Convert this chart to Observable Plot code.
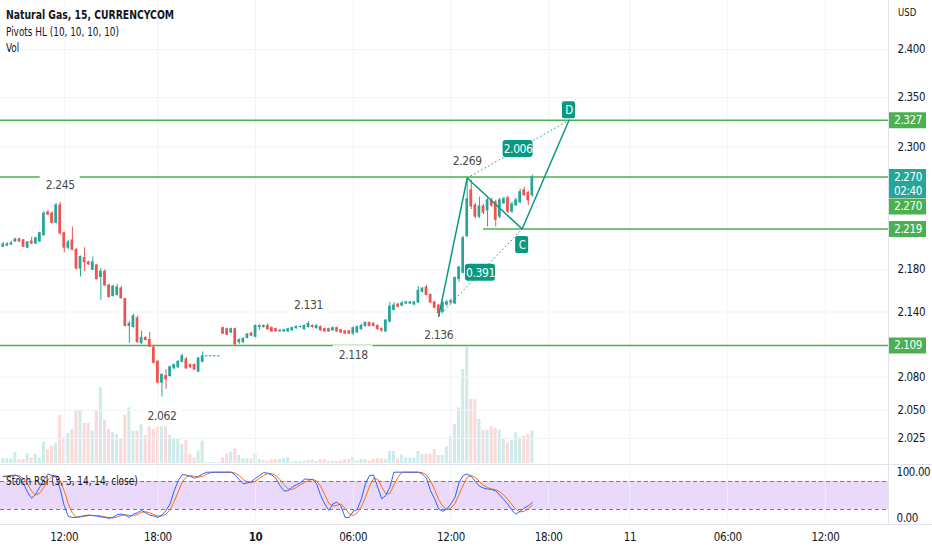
<!DOCTYPE html>
<html><head><meta charset="utf-8">
<script src="https://cdn.jsdelivr.net/npm/d3@7"></script>
<script src="https://cdn.jsdelivr.net/npm/@observablehq/plot@0.6"></script>
<style>
body{margin:0;background:#fff;}
#chart{position:relative;width:932px;height:550px;overflow:hidden;font-family:"DejaVu Sans Condensed","DejaVu Sans",sans-serif;color:#131722;background:#fff}
#chart svg{position:absolute;left:0;top:0;}
.lg{position:absolute;left:6px;font-size:11.5px;white-space:nowrap;line-height:14px;transform:scaleX(0.86);transform-origin:0 50%}
.sep{position:absolute;background:#e0e3eb}
</style></head><body><div id="chart"></div><script>
// ---------- data ----------
const open = [2.202,2.203,2.204,2.207,2.209,2.208,2.201,2.207,2.205,2.207,
2.213,2.235,2.234,2.225,2.242,2.215,2.201,2.208,2.199,2.181,
2.191,2.187,2.180,2.184,2.173,2.178,2.165,2.155,2.156,2.162,
2.152,2.127,2.126,2.134,2.111,2.116,2.114,2.107,2.094,2.075,
2.081,2.081,2.088,2.089,2.094,2.096,2.091,2.091,2.085,2.094,
2.099,2.099,2.099,2.099,2.125,2.124,2.121,2.124,2.112,2.112,
2.116,2.120,2.117,2.126,2.126,2.127,2.125,2.124,2.122,2.122,
2.122,2.123,2.125,2.126,2.124,2.126,2.127,2.125,2.126,2.124,
2.124,2.123,2.125,2.123,2.122,2.122,2.120,2.121,2.124,2.127,
2.130,2.129,2.127,2.124,2.122,2.131,2.142,2.147,2.146,2.148,
2.148,2.147,2.149,2.159,2.163,2.156,2.149,2.146,2.140,2.147,
2.149,2.148,2.171,2.177,2.212,2.257,2.242,2.231,2.241,2.237,
2.247,2.245,2.231,2.244,2.249,2.236,2.242,2.245,2.257,2.254,
2.252];
const high = [2.206,2.206,2.207,2.210,2.210,2.209,2.207,2.211,2.211,2.216,
2.236,2.237,2.236,2.244,2.245,2.216,2.208,2.221,2.200,2.193,
2.201,2.188,2.192,2.185,2.181,2.180,2.166,2.165,2.166,2.164,
2.153,2.131,2.138,2.136,2.122,2.117,2.121,2.109,2.095,2.083,
2.087,2.090,2.092,2.095,2.101,2.098,2.092,2.092,2.098,2.103,
2.099,2.099,2.099,2.099,2.126,2.125,2.125,2.125,2.115,2.116,
2.120,2.121,2.128,2.128,2.128,2.129,2.126,2.125,2.124,2.124,
2.125,2.126,2.127,2.127,2.128,2.131,2.128,2.128,2.127,2.125,
2.125,2.126,2.126,2.124,2.123,2.123,2.126,2.127,2.129,2.130,
2.130,2.130,2.128,2.125,2.133,2.149,2.149,2.148,2.150,2.150,
2.150,2.150,2.164,2.163,2.165,2.157,2.150,2.147,2.150,2.151,
2.152,2.173,2.183,2.212,2.269,2.267,2.244,2.250,2.243,2.249,
2.249,2.247,2.249,2.250,2.251,2.245,2.249,2.258,2.260,2.256,
2.272];
const low = [2.201,2.202,2.203,2.206,2.206,2.201,2.200,2.204,2.204,2.206,
2.212,2.232,2.224,2.224,2.213,2.196,2.199,2.198,2.180,2.173,
2.178,2.184,2.179,2.170,2.151,2.164,2.153,2.154,2.155,2.152,
2.126,2.111,2.125,2.111,2.110,2.113,2.107,2.092,2.074,2.062,
2.069,2.080,2.087,2.088,2.093,2.087,2.088,2.086,2.084,2.093,
2.099,2.099,2.099,2.099,2.119,2.118,2.120,2.108,2.110,2.111,
2.115,2.117,2.116,2.123,2.125,2.123,2.121,2.121,2.121,2.121,
2.121,2.122,2.124,2.125,2.123,2.125,2.125,2.124,2.122,2.121,
2.121,2.122,2.121,2.120,2.119,2.119,2.118,2.120,2.123,2.126,
2.126,2.126,2.123,2.121,2.121,2.130,2.141,2.144,2.145,2.147,
2.147,2.146,2.148,2.158,2.155,2.148,2.143,2.136,2.139,2.145,
2.147,2.147,2.168,2.176,2.211,2.238,2.229,2.229,2.233,2.221,
2.240,2.221,2.229,2.243,2.234,2.234,2.241,2.244,2.251,2.242,
2.250];
const close = [2.204,2.204,2.205,2.209,2.207,2.202,2.206,2.205,2.210,2.215,
2.234,2.233,2.225,2.242,2.215,2.201,2.206,2.199,2.181,2.192,
2.187,2.185,2.187,2.171,2.178,2.165,2.154,2.164,2.163,2.153,
2.127,2.129,2.136,2.112,2.116,2.114,2.108,2.093,2.075,2.082,
2.078,2.089,2.091,2.094,2.099,2.088,2.089,2.087,2.097,2.099,
2.099,2.099,2.099,2.099,2.120,2.119,2.124,2.110,2.114,2.115,
2.119,2.118,2.127,2.127,2.127,2.124,2.122,2.122,2.1225,2.123,
2.124,2.125,2.126,2.126,2.127,2.129,2.126,2.127,2.123,2.122,
2.122,2.125,2.122,2.121,2.120,2.120,2.125,2.126,2.127,2.130,
2.127,2.127,2.124,2.123,2.132,2.145,2.146,2.145,2.148,2.149,
2.149,2.149,2.160,2.162,2.156,2.149,2.144,2.139,2.1485,2.149,
2.150,2.172,2.182,2.210,2.248,2.241,2.231,2.241,2.235,2.247,
2.242,2.228,2.247,2.248,2.236,2.243,2.247,2.255,2.252,2.247,
2.270];
const volume = [15,14,14,32,12,12,30,17,27,17,
64,42,52,60,144,77,90,102,160,160,
120,120,97,160,227,130,102,94,87,72,
144,167,97,97,117,84,110,102,110,110,
110,84,72,74,57,68,27,17,37,67,
3,3,3,3,17,30,34,44,24,14,
14,14,30,12,10,7,12,12,12,14,
17,4,6,5,6,9,10,6,12,12,
7,7,6,8,12,12,18,7,12,12,
7,12,14,14,12,36,36,14,26,17,
16,16,36,27,27,27,42,24,24,50,
80,117,167,282,348,192,192,132,100,100,
110,105,100,75,62,69,92,77,82,87,
97];
const stochK = [91,92,93,94,90,75,57,44,53,68,
84,96,93,89,64,28,5,3,3,5,
7,8,7,6,4,3,1,3,9,10,
8,3,10,13,18,13,8,6,3,8,
18,32,60,82,95,94,91,87,91,96,
100,100,100,100,100,100,100,94,84,75,
77,80,87,93,99,98,94,87,71,60,
60,68,73,77,85,85,84,75,50,32,
18,32,36,27,3,3,16,20,43,75,
93,94,68,43,50,68,100,100,100,100,
100,100,100,96,87,60,43,21,16,21,
32,46,78,93,96,91,80,70,66,64,
63,60,51,41,31,18,10,16,23,28,
35];
const stochD = [90,91,92,93,92,86,74,59,51,55,
68,83,91,93,82,60,32,12,4,4,
5,7,7,7,6,4,3,2,4,7,
9,7,7,9,14,15,13,9,6,6,
10,19,37,58,79,90,93,91,90,91,
96,99,100,100,100,100,100,98,93,84,
79,77,81,87,93,97,97,93,84,73,
64,63,67,73,78,82,85,81,70,52,
33,27,29,32,22,11,7,13,26,46,
70,87,85,68,54,54,73,89,100,100,
100,100,100,99,94,81,63,41,27,19,
23,33,52,72,89,93,89,80,72,67,
64,62,58,51,41,30,20,15,16,22,
29];
const priceTicks = [2.025,2.05,2.08,2.14,2.18,2.3,2.35,2.4];
const stochTicks = [0,100];
const stochBand = [20,80];
const timeTickIdx = [15,38,62,86,110,134,154,178,202];
const timeTickLabels = ["12:00","18:00","10","06:00","12:00","18:00","11","06:00","12:00"];
const levelPrice = [2.327,2.270,2.219,2.109];
const levelStartIdx = [null,null,118,null];
const pivotIdx = [14,39,75,86,107,114];
const pivotPrice = [2.245,2.062,2.131,2.118,2.136,2.269];
const pivotType = ["H","L","H","L","L","H"];
const patternIdx = [107,114,127.5,139];
const patternPrice = [2.136,2.269,2.219,2.327];
const patternName = ["A","B","C","D"];
const ratioText = ["0.391","2.006"];
const tagPrice = [2.327,2.270,2.270,2.219,2.109];
const tagKind = ["line","last","line","line","line"];
const countdown = "02:40";

// ---------- build ----------
const FONT = '"DejaVu Sans Condensed","DejaVu Sans",sans-serif';
const UP="#26a69a", DOWN="#ef5350", LEVEL="#4caf50", PAT="#089981", GRID="#f0f3fa", TXT="#131722";
const bars = open.map((o,i)=>({i,o,h:high[i],l:low[i],c:close[i],v:volume[i],k:stochK[i],d:stochD[i],dir:close[i]>=o?"up":"down"}));
const colorScale = {domain:["up","down"], range:[UP,DOWN]};
const XD = [-0.66, 217.5];
const X = {domain:XD, axis:null};
const Y = {type:"log", domain:[2.025,2.4], range:[438,49], axis:null};
const svgStyle = {background:"transparent", overflow:"visible", fontFamily:FONT, letterSpacing:"-0.4px"};
const base = {width:932, marginLeft:0, marginRight:44, marginTop:0, marginBottom:0, style:svgStyle};
const chart = document.getElementById("chart");

// volume (behind)
const volPlot = Plot.plot({...base, height:464, x:X, y:{domain:[0,1389], range:[463,0], axis:null}, color:colorScale,
  marks:[Plot.rect(bars,{x1:"i",x2:"i",y1:0,y2:"v",insetLeft:-1.5,insetRight:-1.5,fill:"dir",fillOpacity:0.22})]});

// main price pane
const levels = levelPrice.map((p,j)=>({p, start: levelStartIdx[j]==null ? XD[0] : levelStartIdx[j]}));
const pivots = pivotIdx.map((i,j)=>({i, p:pivotPrice[j], hi:pivotType[j]==="H"}));
const pts = patternIdx.map((i,j)=>({i, p:patternPrice[j], name:patternName[j]}));
const links = [{a:pts[0], b:pts[2], t:ratioText[0]}, {a:pts[1], b:pts[3], t:ratioText[1]}];
const mids = links.map(r=>({i:(r.a.i+r.b.i)/2, p:Math.sqrt(r.a.p*r.b.p), t:r.t}));
const pivotMarks = [true,false].flatMap(hi=>{
  const data = pivots.filter(d=>d.hi===hi); const dy = hi ? -17 : 19;
  return [
    Plot.rect(data,{x1:"i",x2:"i",y1:"p",y2:"p",insetLeft:-20,insetRight:-20,insetTop:-9,insetBottom:-9,dy,fill:"white"}),
    Plot.text(data,{x:"i",y:"p",dy,text:d=>d.p.toFixed(3),fill:"#4a4a4a",fontSize:12,lineAnchor:"middle"})
  ];
});
const letterMarks = [[pts[2],16],[pts[3],-10]].flatMap(([pt,dy])=>[
  Plot.rect([pt],{x1:"i",x2:"i",y1:"p",y2:"p",insetLeft:-6.5,insetRight:-6.5,insetTop:-8.5,insetBottom:-8.5,dy,rx:2,fill:PAT}),
  Plot.text([pt],{x:"i",y:"p",dy,text:"name",fill:"white",fontSize:11.5,lineAnchor:"middle"})
]);
const mainPlot = Plot.plot({...base, height:464, x:X, y:Y, color:colorScale, marks:[
  Plot.ruleY(priceTicks,{stroke:GRID}),
  Plot.ruleX(timeTickIdx,{stroke:GRID}),
  Plot.ruleY(levels,{y:"p",x1:"start",x2:XD[1],stroke:LEVEL,strokeWidth:1.5}),
  ...pivotMarks,
  Plot.ruleX(bars,{x:"i",y1:"l",y2:"h",stroke:"dir",strokeWidth:1}),
  Plot.rect(bars,{x1:"i",x2:"i",y1:"o",y2:"c",insetLeft:-1.35,insetRight:-1.35,insetTop:-0.5,insetBottom:-0.5,fill:"dir"}),
  Plot.link(links,{x1:d=>d.a.i,y1:d=>d.a.p,x2:d=>d.b.i,y2:d=>d.b.p,stroke:PAT,strokeWidth:1,strokeDasharray:"1.5,2.5"}),
  Plot.line(pts,{x:"i",y:"p",stroke:PAT,strokeWidth:1.5}),
  Plot.rect(mids,{x1:"i",x2:"i",y1:"p",y2:"p",insetLeft:-15,insetRight:-15,insetTop:-8.5,insetBottom:-8.5,rx:3,fill:PAT}),
  Plot.text(mids,{x:"i",y:"p",text:"t",fill:"white",fontSize:12,lineAnchor:"middle"}),
  ...letterMarks,
  Plot.text(priceTicks,{y:d=>d,frameAnchor:"right",textAnchor:"start",dx:9,text:d=>d.toFixed(3),fill:TXT,fontSize:11.5,lineAnchor:"middle"})
]});

// stoch pane + time axis
const SY = {domain:[0,100], range:[518.3,471.7], axis:null};
const timeTicks = timeTickIdx.map((i,j)=>({i, label:timeTickLabels[j]}));
const stochPlot = Plot.plot({...base, height:550, x:X, y:SY, marks:[
  Plot.rect([0],{x1:XD[0],x2:XD[1],y1:stochBand[0],y2:stochBand[1],fill:"#ebd9fb"}),
  Plot.ruleX(timeTickIdx,{y1:-12.4,y2:116.5,stroke:GRID,strokeOpacity:0.8}),
  Plot.ruleY(stochBand,{stroke:"#787b86",strokeDasharray:"4,3"}),
  Plot.line(bars,{x:"i",y:"d",stroke:"#ff6d00",strokeWidth:1}),
  Plot.line(bars,{x:"i",y:"k",stroke:"#2962ff",strokeWidth:1}),
  Plot.text(stochTicks,{y:d=>d,frameAnchor:"right",textAnchor:"start",dx:8,text:d=>d.toFixed(2),fill:TXT,fontSize:11.5,lineAnchor:"middle"}),
  Plot.text(timeTicks.filter(d=>d.label!=="10"),{x:"i",frameAnchor:"bottom",dy:-13,text:"label",fill:TXT,fontSize:11.5,lineAnchor:"middle"}),
  Plot.text(timeTicks.filter(d=>d.label==="10"),{x:"i",frameAnchor:"bottom",dy:-13,text:"label",fill:TXT,fontSize:11.5,fontWeight:"bold",lineAnchor:"middle"})
]});

// price tags on the right axis
const tagMarks = tagPrice.flatMap((p,j)=>{
  const last = tagKind[j]==="last";
  const pushed = !last && tagKind.some((k,m)=>k==="last" && tagPrice[m]===p);
  if (last) return [
    Plot.ruleY([p],{dy:6.5,stroke:UP,strokeWidth:29}),
    Plot.text([p],{y:d=>d,text:d=>d.toFixed(3),fill:"white",fontSize:11.5,lineAnchor:"middle"}),
    Plot.text([p],{y:d=>d,dy:14,text:()=>countdown,fill:"white",fontSize:11.5,lineAnchor:"middle"})
  ];
  const dy = pushed ? 29.5 : 0;
  return [
    Plot.ruleY([p],{dy,stroke:LEVEL,strokeWidth:16}),
    Plot.text([p],{y:d=>d,dy,text:d=>d.toFixed(3),fill:"white",fontSize:11.5,lineAnchor:"middle"})
  ];
});
const tagPlot = Plot.plot({width:932,height:464,marginLeft:889,marginRight:6,marginTop:0,marginBottom:0,
  style:svgStyle, y:Y, marks:tagMarks});

chart.append(volPlot, mainPlot, stochPlot, tagPlot);

// html decorations: legend, separators, currency
function div(cls, css, txt){const e=document.createElement("div"); e.className=cls; e.style.cssText=css; if(txt) e.textContent=txt; chart.appendChild(e);}
div("sep","left:0;top:464px;width:932px;height:1px;");
div("sep","left:0;top:524px;width:932px;height:1px;");
div("sep","left:888px;top:0;width:1px;height:524px;");
div("lg","top:8px;font-weight:bold;font-size:12px;","Natural Gas, 15, CURRENCYCOM");
div("lg","top:25px;","Pivots HL (10, 10, 10, 10)");
div("lg","top:41px;","Vol");
div("lg","top:474px;","Stoch RSI (3, 3, 14, 14, close)");
div("lg","left:898px;top:6px;font-size:11px;","USD");
</script></body></html>
